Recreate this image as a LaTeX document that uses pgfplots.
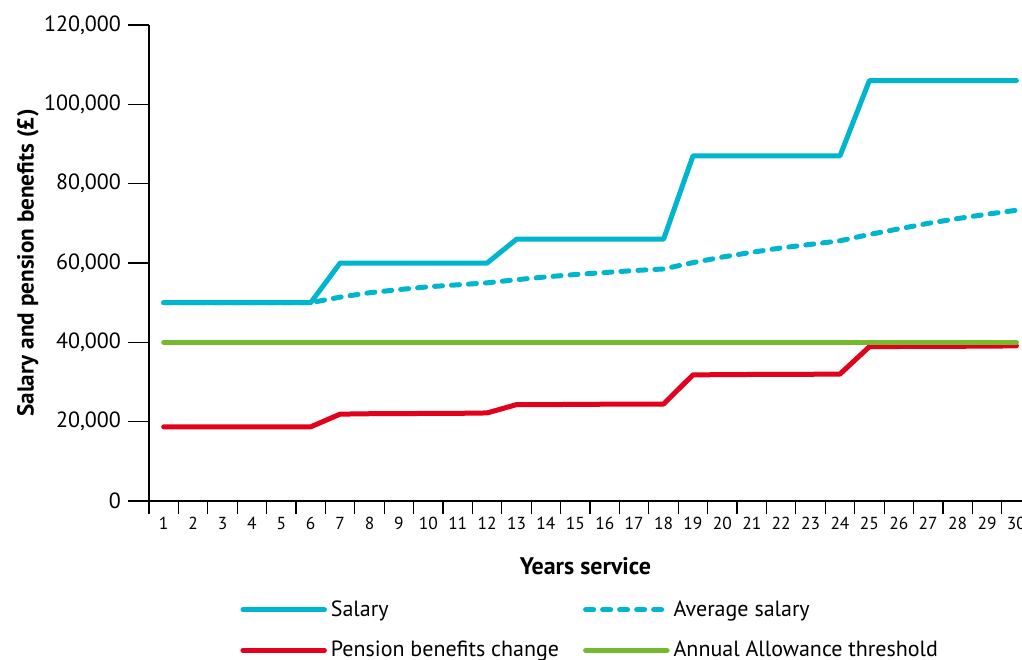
\documentclass[border=0pt]{standalone}
\usepackage{fontspec}
\setmainfont{PT Sans}
\usepackage{pgfplots}
\pgfplotsset{compat=1.18}
\definecolor{salCyan}{RGB}{0,181,206}
\definecolor{penRed}{RGB}{226,0,26}
\definecolor{aaGreen}{RGB}{119,185,46}

\begin{document}
\begin{tikzpicture}
\useasboundingbox (-74.5pt,-79pt) rectangle (436.5pt,250.5pt);
\begin{axis}[
    width=436.5pt, height=238pt, scale only axis,
    xmin=0.5, xmax=30.19, ymin=0, ymax=120000,
    axis x line*=bottom, axis y line*=left,
    axis line style={black, line width=0.6pt},
    xtick={1,...,30}, minor xtick={0.5,1.5,...,30.5},
    ytick={0,20000,...,120000},
    scaled y ticks=false,
    tick align=outside, major tick length=10.5pt, minor tick length=6.5pt,
    tick style={black, line width=0.6pt},
    major x tick style={draw=none},
    /pgf/number format/assume math mode=true,
    yticklabel style={font=\fontsize{11}{13}\selectfont,
        /pgf/number format/fixed, /pgf/number format/precision=0,
        /pgf/number format/1000 sep={,}},
    xticklabel style={font=\fontsize{8.7}{10}\selectfont, yshift=6pt},
    xlabel={\textbf{Years service}},
    ylabel={\textbf{Salary and pension benefits (£)}},
    xlabel style={font=\fontsize{12}{14}\selectfont, at={(rel axis cs:0.5,0)}, anchor=center, yshift=-32.5pt},
    ylabel style={font=\fontsize{11.6}{14}\selectfont, at={(rel axis cs:0,0.5)}, anchor=center, yshift=60.5pt},
    legend columns=2,
    legend cell align=left,
    legend style={draw=none, fill=none, at={(rel axis cs:0,0)}, anchor=north west,
        xshift=42.5pt, yshift=-45.5pt, font=\fontsize{11}{13}\selectfont,
        row sep=7pt, /tikz/every even column/.append style={column sep=10pt}},
    legend image code/.code={\draw[#1] (1.25pt,0pt) -- (42pt,0pt);},
    every axis plot/.append style={line width=2.5pt, line join=round, line cap=round},
]
\addplot[salCyan] coordinates {
    (1,50000) (2,50000) (3,50000) (4,50000) (5,50000) (6,50000)
    (7,60000) (8,60000) (9,60000) (10,60000) (11,60000) (12,60000)
    (13,66000) (14,66000) (15,66000) (16,66000) (17,66000) (18,66000)
    (19,87000) (20,87000) (21,87000) (22,87000) (23,87000) (24,87000)
    (25,106000) (26,106000) (27,106000) (28,106000) (29,106000) (30,106000)
};
\addlegendentry{Salary}
\addplot[salCyan, dash pattern=on 4pt off 4.5pt] coordinates {
    (1,50000) (2,50000) (3,50000) (4,50000) (5,50000) (6,50000)
    (7,51400) (8,52500) (9,53300) (10,54000) (11,54500) (12,55000)
    (13,55800) (14,56500) (15,57100) (16,57600) (17,58100) (18,58500)
    (19,60100) (20,61500) (21,62700) (22,63800) (23,64700) (24,65600)
    (25,67200) (26,68600) (27,70000) (28,71200) (29,72300) (30,73300)
};
\addlegendentry{Average salary}
\addplot[penRed] coordinates {
    (1,18700) (2,18700) (3,18700) (4,18700) (5,18700) (6,18700)
    (7,21900) (8,22000) (9,22000) (10,22100) (11,22100) (12,22200)
    (13,24300) (14,24300) (15,24350) (16,24400) (17,24400) (18,24450)
    (19,31800) (20,31850) (21,31900) (22,31900) (23,31950) (24,32000)
    (25,38900) (26,38950) (27,39000) (28,39000) (29,39050) (30,39100)
};
\addlegendentry{Pension benefits change}
\addplot[aaGreen] coordinates {
    (1,40000) (2,40000) (3,40000) (4,40000) (5,40000) (6,40000)
    (7,40000) (8,40000) (9,40000) (10,40000) (11,40000) (12,40000)
    (13,40000) (14,40000) (15,40000) (16,40000) (17,40000) (18,40000)
    (19,40000) (20,40000) (21,40000) (22,40000) (23,40000) (24,40000)
    (25,40000) (26,40000) (27,40000) (28,40000) (29,40000) (30,40000)
};
\addlegendentry{Annual Allowance threshold}
\end{axis}
\end{tikzpicture}
\end{document}
